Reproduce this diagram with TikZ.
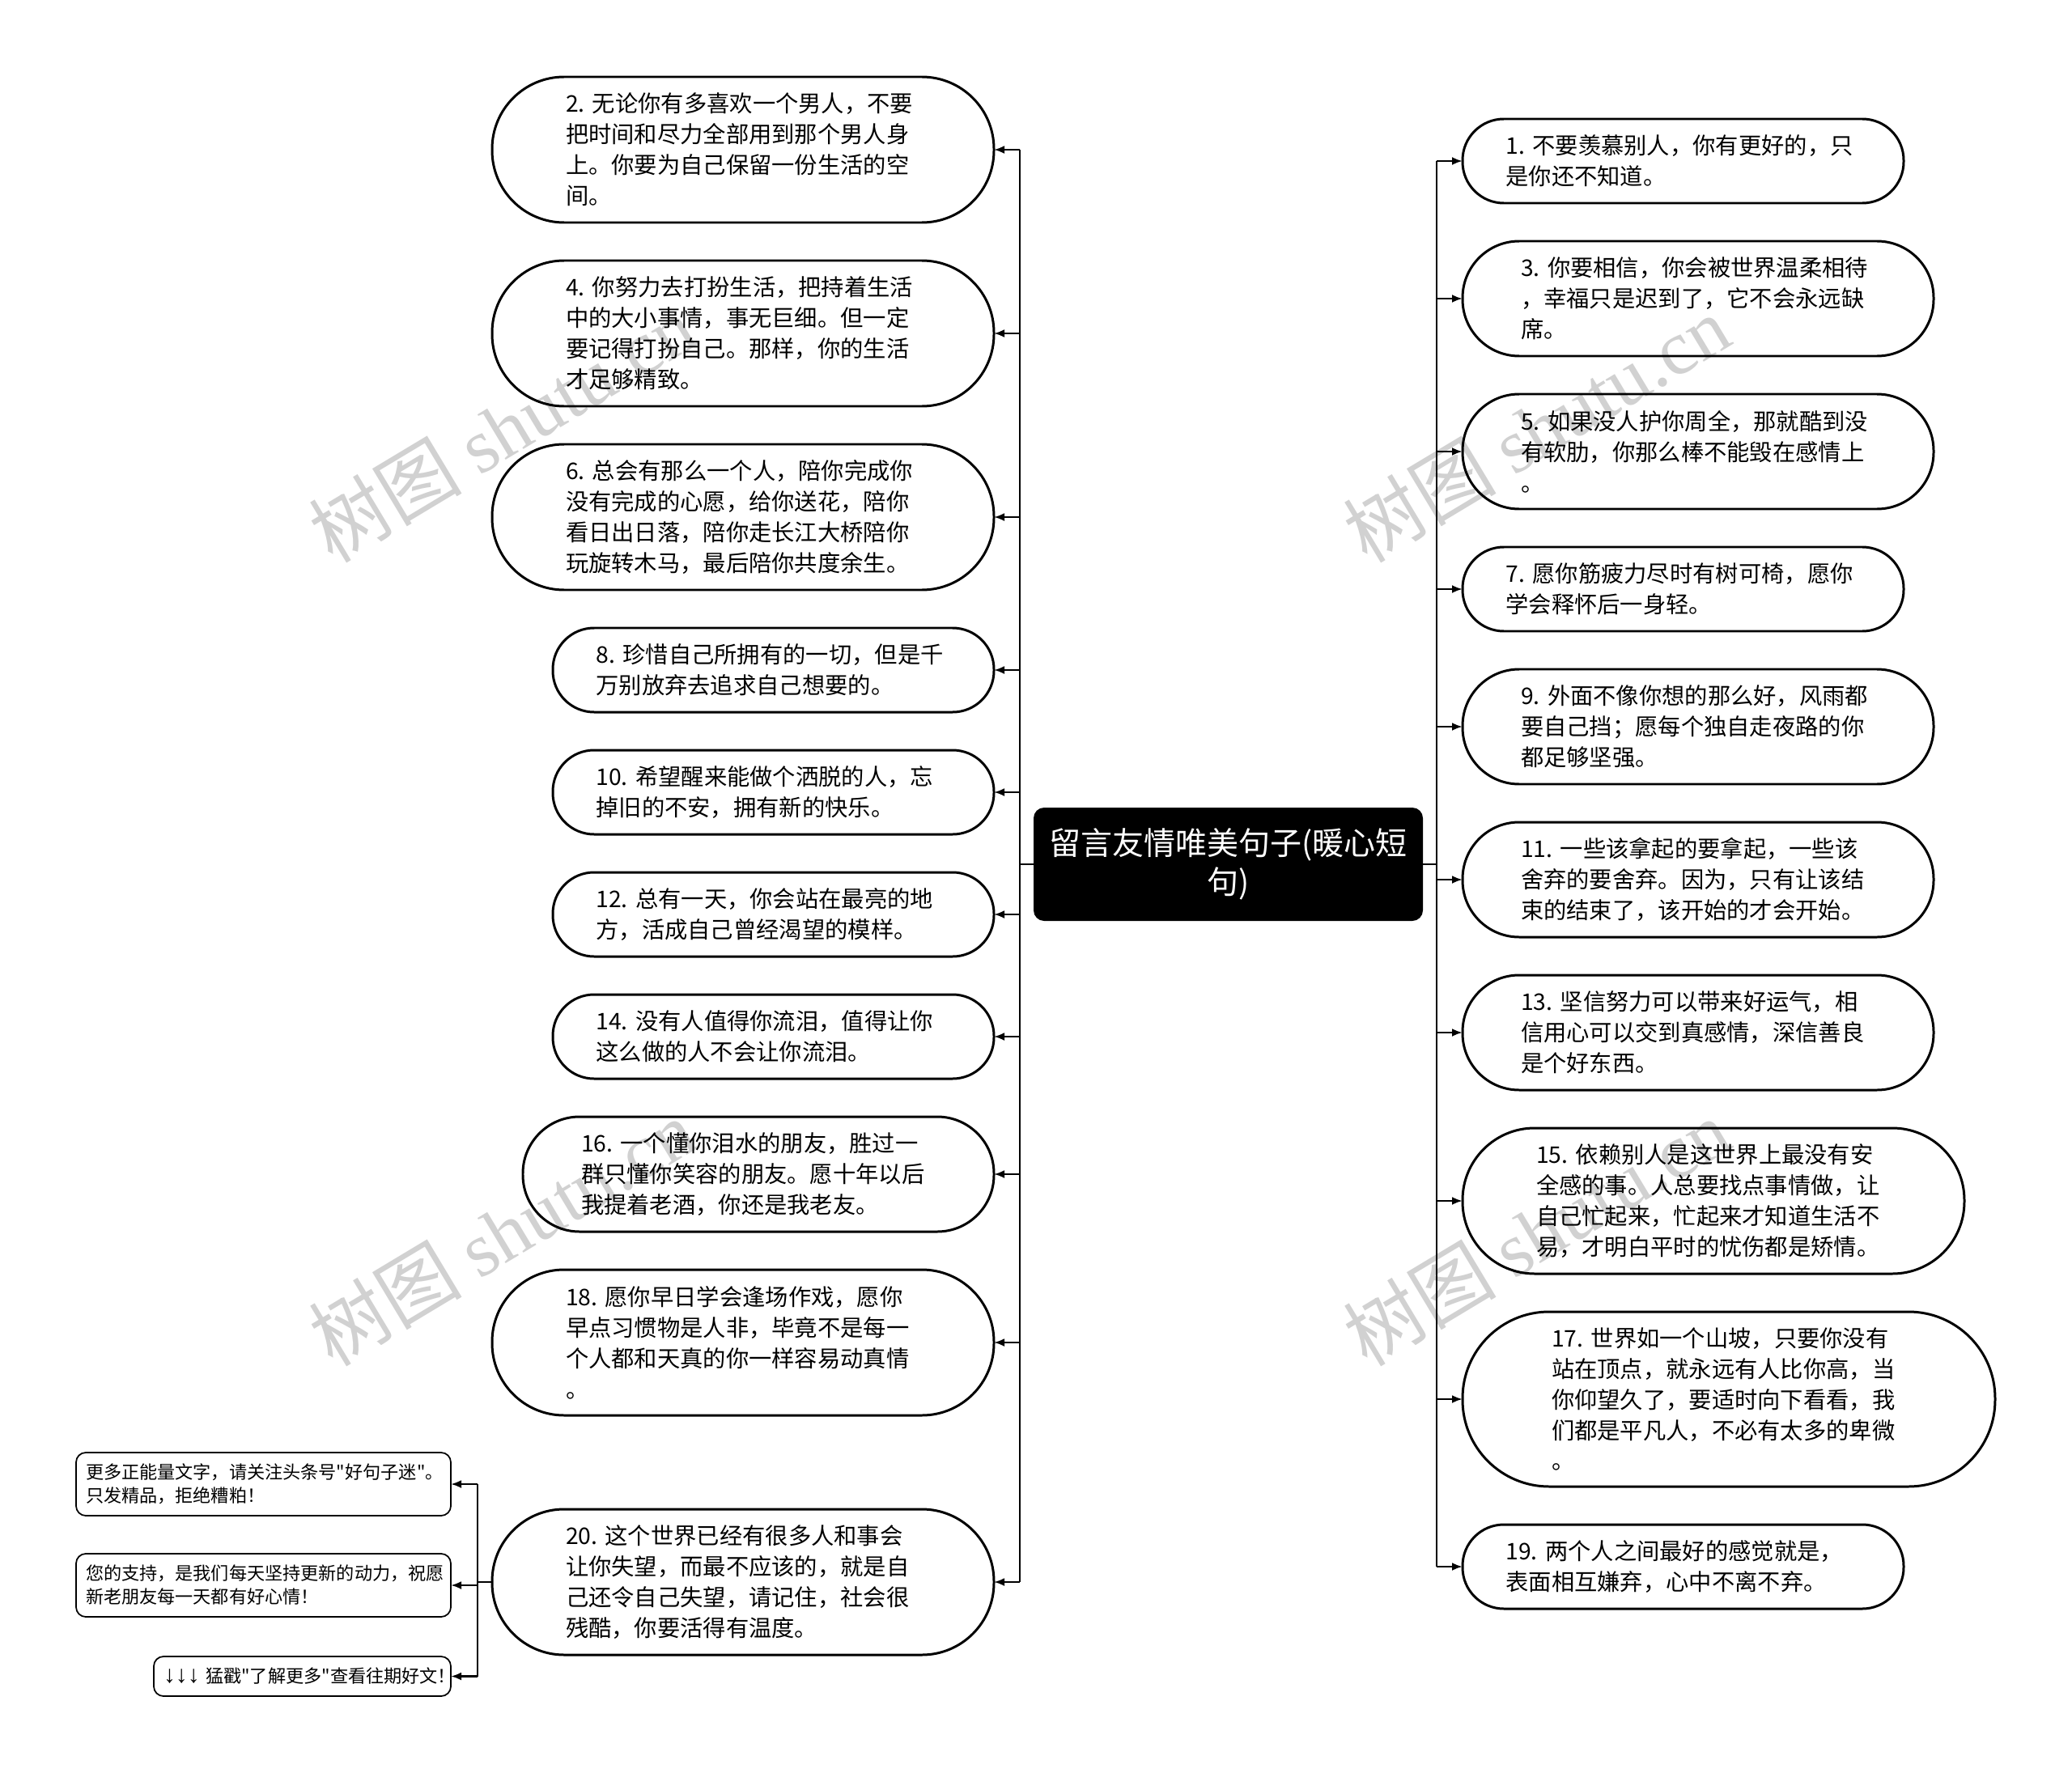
\documentclass[tikz,border=0pt]{standalone}
\usepackage{fontspec}
\setmainfont{Noto Sans CJK SC}
\newfontfamily\cjkplain{Noto Sans CJK SC}
\newfontfamily\arrowfont{Liberation Sans}
\newfontfamily\wmserif{Liberation Serif}
\usetikzlibrary{positioning, arrows.meta}

\newcommand{\leaffont}{\fontsize{8.05pt}{10.8pt}\selectfont}
\newcommand{\notefont}{\cjkplain\fontsize{6.3pt}{8.25pt}\selectfont}

\begin{document}
\begin{tikzpicture}[>={Latex[length=0.13cm, width=0.1cm]}, node distance=0.47cm,
    leaf/.style={draw, line width=0.85pt, outer sep=0pt, inner sep=0pt, text width=4.38cm, align=left, font=\leaffont},
    s2/.style={minimum width=5.45cm, minimum height=1.04cm, rounded corners=0.51cm},
    s3/.style={minimum width=5.82cm, minimum height=1.42cm, rounded corners=0.70cm},
    s4/.style={minimum width=6.20cm, minimum height=1.80cm, rounded corners=0.89cm},
    s5/.style={minimum width=6.58cm, minimum height=2.16cm, rounded corners=1.07cm},
    root/.style={fill=black, text=white, rounded corners=0.13cm, outer sep=0pt, minimum width=4.81cm, minimum height=1.40cm, align=center, font=\fontsize{11.1pt}{13.5pt}\selectfont},
    note/.style={draw, line width=0.5pt, outer sep=0pt, rounded corners=0.12cm, inner xsep=0.12cm, inner ysep=0pt, align=left, font=\notefont},
    conn/.style={line width=0.75pt},
    wm/.style={rotate=31, text=black!18, font=\fontsize{27pt}{27pt}\selectfont}]

  \useasboundingbox[fill=white] (0,0) rectangle (25.6,-21.91);

  % watermarks
  \node[wm] (wm1) at (6.2,-5.3) {树图 {\wmserif shutu.cn}};
  \node[wm] (wm2) at (6.2,-15.23) {树图 {\wmserif shutu.cn}};
  \node[wm] (wm3) at (18.98,-5.3) {树图 {\wmserif shutu.cn}};
  \node[wm] (wm4) at (18.98,-15.23) {树图 {\wmserif shutu.cn}};

  \node[root] (root) at (15.175,-10.68) {留言友情唯美句子(暖心短\\句)};

  % left column
  \node[leaf, s4, anchor=north east] (n2) at (12.28,-0.95) {2.~无论你有多喜欢一个男人，不要\\把时间和尽力全部用到那个男人身\\上。你要为自己保留一份生活的空\\间。};
  \node[leaf, s4, below=of n2.south east, anchor=north east] (n4) {4.~你努力去打扮生活，把持着生活\\中的大小事情，事无巨细。但一定\\要记得打扮自己。那样，你的生活\\才足够精致。};
  \node[leaf, s4, below=of n4.south east, anchor=north east] (n6) {6.~总会有那么一个人，陪你完成你\\没有完成的心愿，给你送花，陪你\\看日出日落，陪你走长江大桥陪你\\玩旋转木马，最后陪你共度余生。};
  \node[leaf, s2, below=of n6.south east, anchor=north east] (n8) {8.~珍惜自己所拥有的一切，但是千\\万别放弃去追求自己想要的。};
  \node[leaf, s2, below=of n8.south east, anchor=north east] (n10) {10.~希望醒来能做个洒脱的人，忘\\掉旧的不安，拥有新的快乐。};
  \node[leaf, s2, below=of n10.south east, anchor=north east] (n12) {12.~总有一天，你会站在最亮的地\\方，活成自己曾经渴望的模样。};
  \node[leaf, s2, below=of n12.south east, anchor=north east] (n14) {14.~没有人值得你流泪，值得让你\\这么做的人不会让你流泪。};
  \node[leaf, s3, below=of n14.south east, anchor=north east] (n16) {16.~一个懂你泪水的朋友，胜过一\\群只懂你笑容的朋友。愿十年以后\\我提着老酒，你还是我老友。};
  \node[leaf, s4, below=of n16.south east, anchor=north east] (n18) {18.~愿你早日学会逢场作戏，愿你\\早点习惯物是人非，毕竟不是每一\\个人都和天真的你一样容易动真情\\。};
  \node[leaf, s4, below=1.16cm of n18.south east, anchor=north east] (n20) {20.~这个世界已经有很多人和事会\\让你失望，而最不应该的，就是自\\己还令自己失望，请记住，社会很\\残酷，你要活得有温度。};

  % right column
  \node[leaf, s2, anchor=north west] (n1) at (18.07,-1.47) {1.~不要羡慕别人，你有更好的，只\\是你还不知道。};
  \node[leaf, s3, below=of n1.south west, anchor=north west] (n3) {3.~你要相信，你会被世界温柔相待\\，幸福只是迟到了，它不会永远缺\\席。};
  \node[leaf, s3, below=of n3.south west, anchor=north west] (n5) {5.~如果没人护你周全，那就酷到没\\有软肋，你那么棒不能毁在感情上\\。};
  \node[leaf, s2, below=of n5.south west, anchor=north west] (n7) {7.~愿你筋疲力尽时有树可椅，愿你\\学会释怀后一身轻。};
  \node[leaf, s3, below=of n7.south west, anchor=north west] (n9) {9.~外面不像你想的那么好，风雨都\\要自己挡；愿每个独自走夜路的你\\都足够坚强。};
  \node[leaf, s3, below=of n9.south west, anchor=north west] (n11) {11.~一些该拿起的要拿起，一些该\\舍弃的要舍弃。因为，只有让该结\\束的结束了，该开始的才会开始。};
  \node[leaf, s3, below=of n11.south west, anchor=north west] (n13) {13.~坚信努力可以带来好运气，相\\信用心可以交到真感情，深信善良\\是个好东西。};
  \node[leaf, s4, below=of n13.south west, anchor=north west] (n15) {15.~依赖别人是这世界上最没有安\\全感的事。人总要找点事情做，让\\自己忙起来，忙起来才知道生活不\\易，才明白平时的忧伤都是矫情。};
  \node[leaf, s5, below=of n15.south west, anchor=north west] (n17) {17.~世界如一个山坡，只要你没有\\站在顶点，就永远有人比你高，当\\你仰望久了，要适时向下看看，我\\们都是平凡人，不必有太多的卑微\\。};
  \node[leaf, s2, below=of n17.south west, anchor=north west] (n19) {19.~两个人之间最好的感觉就是，\\表面相互嫌弃，心中不离不弃。};

  % notes under 20
  \node[note, text width=4.39cm, minimum height=0.78cm, anchor=north east] (na) at (5.57,-17.95) {更多正能量文字，请关注头条号"好句子迷"。\\只发精品，拒绝糟粕！};
  \node[note, text width=4.39cm, minimum height=0.78cm, below=of na.south east, anchor=north east] (nb) {您的支持，是我们每天坚持更新的动力，祝愿\\新老朋友每一天都有好心情！};
  \node[note, text width=3.43cm, minimum height=0.49cm, below=0.49cm of nb.south east, anchor=north east] (nc) {{\arrowfont\fontsize{8.5pt}{8.5pt}\selectfont ↓↓↓}~猛戳"了解更多"查看往期好文！};

  % trunks
  \coordinate (lt) at (12.60,0);
  \coordinate (rt) at (17.75,0);
  \coordinate (nt) at (5.90,0);
  \draw[conn] (root.west) -- (lt |- root.west);
  \draw[conn] (lt |- n2.east) -- (lt |- n20.east);
  \draw[conn] (root.east) -- (rt |- root.east);
  \draw[conn] (rt |- n1.west) -- (rt |- n19.west);
  \draw[conn] (n20.west) -- (nt |- n20.west);
  \draw[conn] (nt |- na.east) -- (nt |- nc.east);

  % arrows
  \foreach \k in {2,4,...,20}
    \draw[conn, ->] (lt |- n\k.east) -- (n\k.east);
  \foreach \k in {1,3,...,19}
    \draw[conn, ->] (rt |- n\k.west) -- (n\k.west);
  \foreach \k in {na,nb,nc}
    \draw[conn, ->] (nt |- \k.east) -- (\k.east);
\end{tikzpicture}
\end{document}
